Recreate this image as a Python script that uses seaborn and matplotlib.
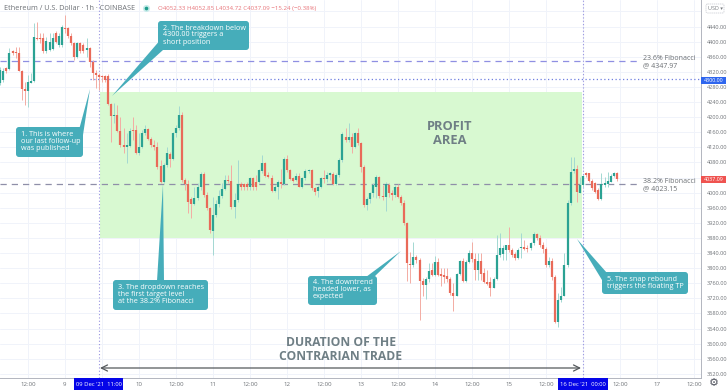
"""Ethereum hourly candles with the annotated contrarian trade."""
import matplotlib
matplotlib.use('Agg')
import matplotlib.pyplot as plt
import pandas as pd
import seaborn as sns
from matplotlib.patches import FancyBboxPatch, Polygon, Rectangle

# ETH/USD 1h candles, first candle 8 Dec 2021 03:00
opens = [4290, 4298, 4329, 4327, 4374, 4372, 4369, 4323, 4274, 4270, 4291, 4297, 4411, 4410, 4409, 4376, 4378, 4380, 4422, 4391,
         4391, 4437, 4435, 4415, 4396, 4359, 4396, 4391, 4378, 4382, 4347, 4318, 4311, 4309, 4309, 4309, 4235, 4204, 4207, 4164,
         4125, 4122, 4123, 4166, 4166, 4104, 4122, 4157, 4168, 4141, 4126, 4122, 4071, 4029, 4073, 4102, 4089, 4157, 4172, 4206,
         4034, 4023, 3982, 3970, 3985, 4016, 4049, 3994, 3960, 3899, 3941, 3969, 3991, 4009, 4034, 4032, 3963, 3981, 4023, 4023,
         4023, 4014, 4038, 4029, 4029, 4058, 4078, 4047, 4040, 4004, 4014, 4029, 4023, 4089, 4060, 4038, 4034, 4045, 4016, 4038,
         4057, 4060, 4012, 4004, 4014, 4040, 4036, 4046, 4049, 4023, 4047, 4087, 4148, 4140, 4148, 4122, 4157, 4131, 4069, 3967,
         3982, 3998, 4016, 4041, 3991, 3988, 4020, 4000, 3994, 4016, 3989, 3973, 3919, 3811, 3808, 3829, 3822, 3767, 3755, 3771,
         3795, 3782, 3817, 3784, 3782, 3779, 3772, 3735, 3727, 3784, 3819, 3766, 3817, 3841, 3824, 3795, 3819, 3786, 3762, 3762,
         3748, 3772, 3834, 3837, 3848, 3861, 3848, 3837, 3828, 3853, 3857, 3853, 3853, 3866, 3891, 3881, 3861, 3851, 3808, 3820,
         3777, 3658, 3716, 3726, 3808, 3972, 4057, 4063, 4000, 4020, 4051, 4051, 4032, 4025, 4007, 3983, 4020, 4023, 4029, 4044,
         4051]
closes = [4325, 4323, 4321, 4371, 4371, 4369, 4323, 4274, 4270, 4294, 4297, 4413, 4408, 4406, 4374, 4403, 4400, 4411, 4400, 4415,
          4440, 4434, 4415, 4396, 4359, 4396, 4376, 4376, 4382, 4345, 4316, 4311, 4307, 4306, 4298, 4235, 4203, 4207, 4164, 4125,
          4122, 4125, 4164, 4163, 4104, 4122, 4157, 4168, 4141, 4126, 4122, 4069, 4029, 4073, 4104, 4089, 4157, 4172, 4206, 4034,
          4023, 3976, 3970, 3985, 4016, 4049, 3994, 3960, 3901, 3941, 3969, 3991, 4009, 4034, 4031, 3963, 3981, 4023, 4014, 4014,
          4014, 4038, 4014, 4014, 4060, 4078, 4045, 4041, 4004, 4014, 4029, 4023, 4089, 4060, 4035, 4032, 4044, 4016, 4038, 4057,
          4060, 4012, 4003, 4014, 4038, 4036, 4047, 4051, 4023, 4047, 4087, 4155, 4140, 4148, 4122, 4157, 4131, 4069, 3967, 3982,
          3998, 4020, 4041, 3991, 3988, 4023, 4000, 3994, 4016, 3989, 3973, 3919, 3813, 3808, 3829, 3822, 3767, 3755, 3771, 3793,
          3782, 3817, 3782, 3780, 3777, 3772, 3735, 3727, 3784, 3819, 3766, 3817, 3841, 3824, 3795, 3819, 3785, 3762, 3757, 3748,
          3772, 3834, 3853, 3853, 3861, 3848, 3835, 3828, 3848, 3857, 3850, 3850, 3866, 3891, 3881, 3861, 3851, 3808, 3820, 3777,
          3658, 3716, 3726, 3808, 3972, 4054, 4063, 4003, 4020, 4044, 4047, 4032, 4012, 4003, 3983, 4022, 4025, 4032, 4044, 4053,
          4035]
highs = [4334, 4329, 4334, 4382, 4378, 4387, 4387, 4325, 4294, 4312, 4316, 4449, 4453, 4422, 4422, 4413, 4422, 4422, 4427, 4422,
         4444, 4471, 4440, 4422, 4400, 4400, 4400, 4396, 4409, 4387, 4351, 4325, 4316, 4312, 4312, 4314, 4237, 4237, 4232, 4201,
         4170, 4157, 4170, 4201, 4179, 4157, 4166, 4179, 4170, 4148, 4140, 4135, 4087, 4078, 4122, 4109, 4162, 4179, 4230, 4215,
         4038, 4034, 3989, 4016, 4025, 4056, 4056, 4003, 3963, 3989, 3981, 4007, 4025, 4047, 4047, 4073, 3998, 4087, 4029, 4025,
         4029, 4042, 4042, 4047, 4064, 4100, 4082, 4056, 4047, 4020, 4034, 4064, 4095, 4100, 4064, 4042, 4051, 4051, 4042, 4064,
         4064, 4062, 4016, 4020, 4042, 4060, 4056, 4056, 4056, 4051, 4091, 4162, 4170, 4184, 4157, 4162, 4170, 4135, 4073, 3989,
         4003, 4025, 4047, 4044, 4020, 4029, 4025, 4007, 4020, 4023, 3994, 3981, 3923, 3844, 3868, 3835, 3826, 3773, 3777, 3813,
         3813, 3832, 3826, 3800, 3800, 3800, 3777, 3760, 3786, 3822, 3826, 3822, 3848, 3868, 3839, 3839, 3839, 3800, 3795, 3777,
         3777, 3888, 3892, 3861, 3861, 3910, 3853, 3844, 3853, 3892, 3875, 3861, 3870, 3897, 3892, 3888, 3870, 3857, 3830, 3826,
         3782, 3733, 3751, 3839, 3981, 4095, 4095, 4073, 4042, 4047, 4056, 4053, 4035, 4029, 4012, 4051, 4042, 4056, 4049, 4056,
         4056]
lows = [4285, 4294, 4316, 4325, 4365, 4356, 4321, 4246, 4232, 4226, 4290, 4294, 4404, 4396, 4369, 4369, 4376, 4378, 4396, 4387,
        4387, 4422, 4409, 4391, 4351, 4356, 4369, 4369, 4360, 4334, 4298, 4276, 4272, 4294, 4294, 4232, 4135, 4184, 4162, 4122,
        4104, 4078, 4122, 4140, 4102, 4100, 4117, 4153, 4140, 4122, 4113, 4064, 4025, 4025, 4069, 4069, 4087, 4148, 4166, 4029,
        4007, 3945, 3932, 3967, 3981, 4007, 3989, 3954, 3892, 3835, 3936, 3963, 3985, 4007, 4025, 3958, 3932, 3976, 4007, 4007,
        4007, 4007, 4007, 4007, 4025, 4051, 4042, 4038, 4003, 4003, 3982, 4012, 4020, 4056, 4034, 4029, 4032, 4014, 4012, 4034,
        4051, 4007, 3994, 3989, 4012, 4025, 4029, 4034, 4020, 4020, 4042, 4082, 4135, 4135, 4106, 4117, 4126, 4056, 3963, 3954,
        3972, 3989, 3985, 3985, 3981, 3952, 3989, 3981, 3989, 3985, 3967, 3914, 3766, 3760, 3804, 3813, 3663, 3725, 3718, 3764,
        3778, 3778, 3778, 3753, 3760, 3764, 3729, 3687, 3725, 3782, 3764, 3764, 3813, 3817, 3769, 3769, 3769, 3760, 3755, 3726,
        3747, 3769, 3830, 3822, 3822, 3844, 3830, 3822, 3823, 3826, 3848, 3844, 3848, 3861, 3875, 3857, 3839, 3804, 3804, 3769,
        3654, 3643, 3711, 3725, 3804, 3967, 4051, 3974, 3998, 4016, 4042, 4029, 4007, 3998, 3981, 3981, 4016, 4016, 4027, 4042,
        4032]

fib_236 = 4347.97
fib_382 = 4023.15
trigger_level = 4300.00
last_close = 4037.09
profit_top = 4266
profit_bottom = 3881
y_levels = [4440, 4400, 4360, 4320, 4280, 4240, 4200, 4160, 4120, 4080, 4000, 3960, 3920, 3880,
            3840, 3800, 3760, 3720, 3680, 3640, 3600, 3560, 3520]
entry_time = pd.Timestamp('2021-12-09 11:00')
exit_time = pd.Timestamp('2021-12-16 00:00')

GREEN = '#2ba293'
RED = '#e96a59'
TEAL = '#46adba'
GREY = '#6f7f85'

times = pd.date_range('2021-12-08 03:00', periods=len(opens), freq='h')
candles = pd.DataFrame({'time': times, 'open': opens, 'close': closes, 'high': highs, 'low': lows})
candles['dir'] = ['up' if c >= o else 'down' for o, c in zip(opens, closes)]
bodies = candles.melt(id_vars=['time', 'dir'], value_vars=['open', 'close'], value_name='price')
wicks = candles.melt(id_vars=['time', 'dir'], value_vars=['high', 'low'], value_name='price')

sns.set_theme(style='white')
plt.rcParams['font.family'] = ['Open Sans', 'DejaVu Sans']

fig = plt.figure(figsize=(7.28, 3.91), dpi=100)
ax = fig.add_axes([0, 13 / 391, 700.7 / 728, 378 / 391])
t0 = pd.Timestamp('2021-12-08 12:00')
ax.set_xlim(t0 - pd.Timedelta(hours=9.08), t0 + pd.Timedelta(hours=218.2))
ax.set_ylim(3509, 4510.4)

# tick labels: day number at midnight, 12:00 at noon, the two blue tags hide their own slots
x_ticks, x_labels = [], []
for t in pd.date_range('2021-12-08 12:00', '2021-12-17 12:00', freq='12h'):
    if t.hour == 0:
        x_ticks.append(t)
        x_labels.append(str(t.day))
    elif t != pd.Timestamp('2021-12-09 12:00'):
        x_ticks.append(t)
        x_labels.append('12:00')
hidden = x_ticks.index(pd.Timestamp('2021-12-16 00:00'))
x_ticks.pop(hidden)
x_labels.pop(hidden)
ax.set_xticks(x_ticks, x_labels)
ax.yaxis.tick_right()
ax.set_yticks(y_levels, [f'{v:.2f}' for v in y_levels])
ax.tick_params(axis='x', labelsize=4.4, colors='#6f7378', length=0, pad=3)
ax.tick_params(axis='y', labelsize=4.1, colors='#6f7378', length=0, pad=4.5)

# the chart grid also runs through the two covered slots
for t in pd.date_range('2021-12-08 12:00', '2021-12-17 12:00', freq='12h'):
    ax.axvline(t, color='#f0f3fa', lw=0.7, zorder=0)
for v in range(3520, 4500, 40):
    ax.axhline(v, color='#f0f3fa', lw=0.7, zorder=0)
for side in ['top', 'left']:
    ax.spines[side].set_visible(False)
for side in ['right', 'bottom']:
    ax.spines[side].set_color('#b2b5be')
    ax.spines[side].set_linewidth(0.7)

ax.add_patch(Rectangle((entry_time + pd.Timedelta(minutes=20), profit_bottom),
                       exit_time - entry_time - pd.Timedelta(minutes=40), profit_top - profit_bottom,
                       facecolor='#d8f9d1', edgecolor='none', zorder=1))

ax.plot([t0 - pd.Timedelta(hours=9.08), t0 + pd.Timedelta(hours=197.5)], [fib_236, fib_236],
        color='#8f8fe2', lw=0.9, dashes=(5, 4), zorder=2)
ax.plot([t0 - pd.Timedelta(hours=9.08), t0 + pd.Timedelta(hours=197.5)], [fib_382, fib_382],
        color='#8f8fa8', lw=0.9, dashes=(5, 4), zorder=2)
ax.plot([t0 + pd.Timedelta(hours=20), t0 + pd.Timedelta(hours=218.2)], [trigger_level, trigger_level],
        color='#6f7fe0', lw=0.9, dashes=(1, 2), zorder=2)
ax.axvline(entry_time, color='#9a94e0', lw=0.8, dashes=(1, 2), zorder=2)
ax.axvline(exit_time, color='#9a94e0', lw=0.8, dashes=(1, 2), zorder=2)

sns.lineplot(data=wicks, x='time', y='price', units='time', estimator=None, hue='dir',
             palette={'up': '#a3d8d2', 'down': '#f3aca3'}, lw=0.7, legend=False, sort=False,
             solid_capstyle='butt', ax=ax, zorder=3)
sns.lineplot(data=bodies, x='time', y='price', units='time', estimator=None, hue='dir',
             palette={'up': GREEN, 'down': RED}, lw=1.6, legend=False, sort=False,
             solid_capstyle='butt', ax=ax, zorder=4)
ax.set_xlabel('')
ax.set_ylabel('')
ax.set_xlim(t0 - pd.Timedelta(hours=9.08), t0 + pd.Timedelta(hours=218.2))
ax.set_ylim(3509, 4510.4)

# overlay in picture pixels for the drawn-on notes
ov = fig.add_axes([0, 0, 1, 1], zorder=5)
ov.set_xlim(0, 728)
ov.set_ylim(391, 0)
ov.axis('off')
ov.patch.set_alpha(0)


def callout(x0, y0, x1, y1, tail, lines, text_x, text_y):
    ov.add_patch(Polygon(tail, closed=True, facecolor=TEAL, edgecolor='none'))
    ov.add_patch(FancyBboxPatch((x0 + 3, y0 + 3), x1 - x0 - 6, y1 - y0 - 6,
                                boxstyle='round,pad=3,rounding_size=3', facecolor=TEAL, edgecolor='none'))
    ov.text(text_x, text_y, lines, color='white', fontsize=5.2, va='center', ha='left',
            linespacing=1.0, fontweight='medium')


callout(16, 127, 83, 157, [(79.5, 128), (83, 135), (90, 89)],
        '1. This is where\nour last follow-up\nwas published', 21, 141.5)
callout(158, 21, 249, 50, [(158.5, 42), (163, 50), (112, 96)],
        '2. The breakdown below\n4300.00 triggers a\nshort position', 163, 35)
callout(113, 280, 208, 310, [(157, 281), (164, 281), (163, 184)],
        '3. The dropdown reaches\nthe first target level\nat the 38.2% Fibonacci', 118, 294.5)
callout(308, 276, 377, 305, [(366, 277), (374, 277), (401, 251)],
        '4. The downtrend\nheaded lower, as\nexpected', 313, 290)
callout(602, 272, 688, 294, [(602, 280), (607, 273), (577, 239)],
        '5. The snap rebound\ntriggers the floating TP', 607, 283)

ov.text(450, 133.5, 'PROFIT\nAREA', color=GREY, fontsize=9.3, fontweight='bold', ha='center', va='center',
        linespacing=1.0)
ov.text(341, 350, 'DURATION OF THE\nCONTRARIAN TRADE', color=GREY, fontsize=8.7, fontweight='bold',
        ha='center', va='center', linespacing=1.1)
ov.annotate('', xy=(100, 368), xytext=(581, 368),
            arrowprops=dict(arrowstyle='<->', color='#55595c', lw=0.9, mutation_scale=11, shrinkA=0, shrinkB=0))

ov.text(643, 62, '23.6% Fibonacci\n@ 4347.97', color='#6a6e72', fontsize=5.0, va='center', linespacing=1.0)
ov.text(643, 185, '38.2% Fibonacci\n@ 4023.15', color='#6a6e72', fontsize=5.0, va='center', linespacing=1.0)

# header row
ov.text(4, 8.5, 'Ethereum / U.S. Dollar · 1h · COINBASE', color='#6c7075', fontsize=5.2, va='center')
ov.scatter([146], [8], s=26, color='#c8ecea', linewidths=0)
ov.scatter([146], [8], s=7, color='#1f9d8c', linewidths=0)
ov.text(158, 8.5, 'O4052.33 H4052.85 L4034.72 C4037.09 −15.24 (−0.38%)', color='#e8757a', fontsize=4.4,
        va='center')

# price and time tags
for y0, y1, colour, label in [(77, 83.5, '#2f66ee', f'{trigger_level:.2f}'), (176, 183, '#ef5350', f'{last_close:.2f}')]:
    ov.add_patch(Rectangle((701, y0), 25, y1 - y0, facecolor=colour, edgecolor='none'))
    ov.text(713.5, (y0 + y1) / 2, label, color='white', fontsize=3.9, ha='center', va='center')
for x0, x1, label in [(74, 123, "09 Dec '21  11:00"), (558, 608, "16 Dec '21  00:00")]:
    ov.add_patch(Rectangle((x0, 378), x1 - x0, 12, facecolor='#0505e8', edgecolor='none'))
    ov.text((x0 + x1) / 2, 384, label, color='white', fontsize=4.2, ha='center', va='center')

ov.add_patch(FancyBboxPatch((707, 5), 16, 7, boxstyle='round,pad=1,rounding_size=1.5', facecolor='white',
                            edgecolor='#c5c8cf', lw=0.5, ls=(0, (2, 1))))
ov.text(715, 8.5, 'USD ▾', color='#777b80', fontsize=3.9, ha='center', va='center')
ov.text(714, 384, '⚙', color='#50535e', fontsize=8, ha='center', va='center')

fig.savefig('out.png', dpi=100)
